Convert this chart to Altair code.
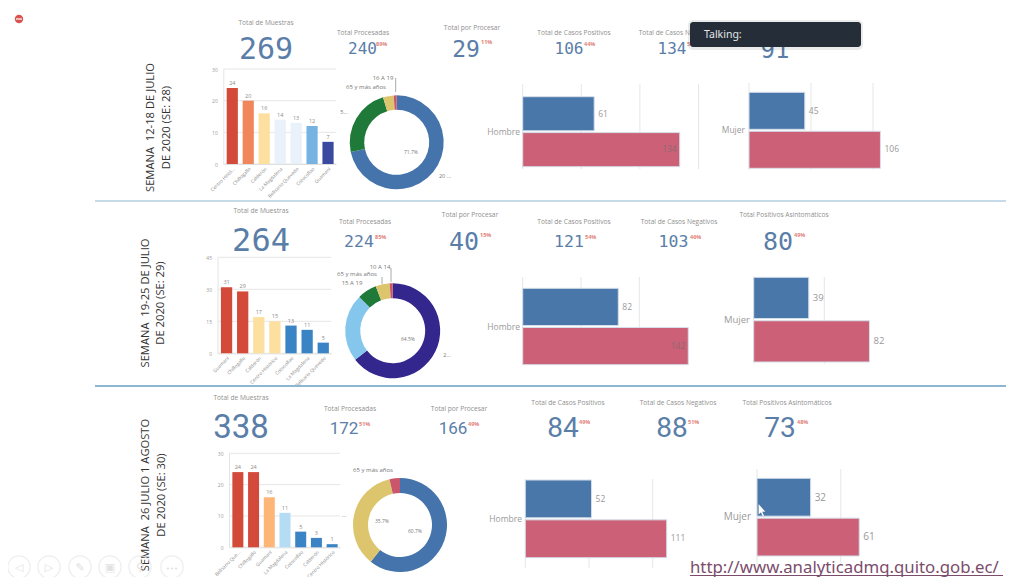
import altair as alt
import pandas as pd

# ---------- data ----------
WEEK_LINE1 = ["SEMANA\u00a0\u00a012-18 DE JULIO", "SEMANA\u00a0\u00a019-25 DE JULIO", "SEMANA\u00a0\u00a026 JULIO 1 AGOSTO"]
WEEK_LINE2 = ["DE 2020 (SE: 28)", "DE 2020 (SE: 29)", "DE 2020 (SE: 30)"]

KPI_TITLES = ["Total de Muestras", "Total Procesadas", "Total por Procesar",
              "Total de Casos Positivos", "Total de Casos Negativos", "Total Positivos Asintomáticos"]
KPI_VALUES = [["269", "240", "29", "106", "134", "91"],
              ["264", "224", "40", "121", "103", "80"],
              ["338", "172", "166", "84", "88", "73"]]
KPI_PCTS = [["", "89%", "11%", "44%", "56%", ""],
            ["", "85%", "15%", "54%", "46%", "49%"],
            ["", "51%", "49%", "49%", "51%", "48%"]]

ZONES_1 = ["Centro Histó...", "Chillogallo", "Calderón", "La Magdalena", "Belisario Quevedo", "Cotocollao", "Guamaní"]
COUNTS_1 = [24, 20, 16, 14, 13, 12, 7]
ZONES_2 = ["Guamaní", "Chillogallo", "Calderón", "Centro Histórico", "Cotocollao", "La Magdalena", "Belisario Quevedo"]
COUNTS_2 = [31, 29, 17, 15, 13, 11, 5]
ZONES_3 = ["Belisario Que...", "Chillogallo", "Guamaní", "La Magdalena", "Cotocollao", "Calderón", "Centro Histórico"]
COUNTS_3 = [24, 24, 16, 11, 5, 3, 1]
TICKS_1 = [0, 10, 20, 30]
TICKS_2 = [0, 15, 30, 45]
TICKS_3 = [0, 10, 20, 30]

AGES_1 = ["20 a 64 años", "5 a 19 años", "65 y más años", "16 A 19"]
SHARE_1 = [71.7, 23.6, 3.7, 1.0]
AGES_2 = ["20 a 64 años", "5 a 14 años", "15 A 19", "65 y más años", "10 A 14"]
SHARE_2 = [64.5, 23.1, 6.6, 4.8, 1.0]
AGES_3 = ["20 a 64 años", "5 a 19 años", "65 y más años"]
SHARE_3 = [60.7, 35.7, 3.6]

SERIES = ["Positivos", "Procesadas"]
HOMBRE = [[61, 134], [82, 142], [52, 111]]
MUJER = [[45, 106], [39, 82], [32, 61]]

# ---------- styles ----------
W, H = 998, 569
RED, ORANGE, SAND, PALE, SKY, BLUE, NAVY = "#d3493a", "#f0875c", "#fddf9f", "#e9f1fb", "#76b2e2", "#3a84c6", "#3a4aa0"
BAR_COL = [[RED, ORANGE, SAND, PALE, PALE, SKY, NAVY],
           [RED, RED, SAND, SAND, BLUE, BLUE, BLUE],
           [RED, RED, "#fdb678", "#b5dcf5", BLUE, BLUE, BLUE]]
DONUT_COL = [["#4474ab", "#1f7a3a", "#dcc56c", "#c9566b"],
             ["#33268c", "#84c6ec", "#1f7a3a", "#dcc56c", "#c9566b"],
             ["#4474ab", "#dcc56c", "#c9566b"]]
KPI_BLUE, GREY, PCT_RED = "#5a7ea8", "#8c8c8c", "#e0817a"
H_BLUE, H_RED, GRID = "#4a77aa", "#cc6076", "#e6e6e6"
FONT, MONO, SANS = "Open Sans", "DejaVu Sans Mono", "Roboto"

layers = []


def X(v):
    return v - 8


def Y(v):
    return v - 8


def txt(s, x, y, size=7, color=GREY, align="center", font=FONT, angle=0, weight="normal"):
    layers.append(alt.Chart(pd.DataFrame({"t": [s]})).mark_text(
        align=align, baseline="alphabetic" if angle == 0 else "middle", fontSize=size, color=color,
        font=font, angle=angle, fontWeight=weight).encode(
        x=alt.value(X(x)), y=alt.value(Y(y)), text="t:N"))


def rect(x0, x1, y0, y1, color, opacity=1.0, radius=0):
    layers.append(alt.Chart(pd.DataFrame({"a": [1]})).mark_rect(
        color=color, opacity=opacity, cornerRadius=radius).encode(
        x=alt.value(X(x0)), x2=alt.value(X(x1)), y=alt.value(Y(y0)), y2=alt.value(Y(y1))))


def hline(x0, x1, y, color, width=1.0):
    layers.append(alt.Chart(pd.DataFrame({"a": [1]})).mark_rule(color=color, strokeWidth=width).encode(
        x=alt.value(X(x0)), x2=alt.value(X(x1)), y=alt.value(Y(y))))


def vline(x, y0, y1, color, width=1.0):
    layers.append(alt.Chart(pd.DataFrame({"a": [1]})).mark_rule(color=color, strokeWidth=width).encode(
        y=alt.value(Y(y0)), y2=alt.value(Y(y1)), x=alt.value(X(x))))


def vbars(cats, vals, cols, x0, x1, y0, ytop, ymax, ticks):
    xs = alt.Scale(domain=cats, range=[X(x0), X(x1)], paddingInner=0.3, paddingOuter=0.15)
    ys = alt.Scale(domain=[0, ymax], range=[Y(y0), Y(ytop)], nice=False)
    grid = pd.DataFrame({"t": ticks})
    layers.append(alt.Chart(grid).mark_rule(color=GRID, strokeWidth=1).encode(
        y=alt.Y("t:Q", scale=ys, axis=None), x=alt.value(X(x0 - 1)), x2=alt.value(X(x1))))
    df = pd.DataFrame({"c": cats, "v": vals})
    layers.append(alt.Chart(df).mark_bar().encode(
        x=alt.X("c:N", sort=None, scale=xs, title=None,
                axis=alt.Axis(orient="bottom", offset=Y(y0) - H, labelAngle=315, labelFontSize=4.8,
                              labelColor="#8a8a8a", labelFont=FONT, ticks=False, domainColor="#d9d9d9",
                              labelPadding=2, labelOverlap=False, labelLimit=70)),
        y=alt.Y("v:Q", scale=ys, title=None,
                axis=alt.Axis(orient="left", offset=-X(x0 - 1), values=ticks, ticks=False, grid=False,
                              domainColor="#e4e4e4", labelFontSize=5, labelColor="#9a9a9a", labelFont=FONT,
                              labelPadding=6)),
        color=alt.Color("c:N", scale=alt.Scale(domain=cats, range=cols), legend=None)))
    layers.append(alt.Chart(df).mark_text(dy=-5, fontSize=5.5, color="#8a8a8a", font=FONT).encode(
        x=alt.X("c:N", sort=None, scale=xs, axis=None),
        y=alt.Y("v:Q", scale=ys, axis=None),
        text="v:Q"))


def donut(cats, vals, cols, cx, cy, r_out, r_in):
    df = pd.DataFrame({"c": cats, "v": vals, "o": list(range(len(cats)))})
    layers.append(alt.Chart(df).mark_arc(outerRadius=r_out, innerRadius=r_in).encode(
        theta=alt.Theta("v:Q", stack=True),
        order=alt.Order("o:Q"),
        color=alt.Color("c:N", scale=alt.Scale(domain=cats, range=cols), legend=None),
        x=alt.value(X(cx)), y=alt.value(Y(cy))))


def hbars(vals, x0, x_tick, tick_step, y_top, y_bot, grid_top, grid_bot, n_ticks, label, label_right,
          inside=None, lab_size=8.5, val_size=8.5):
    ticks = [tick_step * i for i in range(n_ticks)]
    xs = alt.Scale(domain=[0, tick_step], range=[X(x0), X(x_tick)], nice=False, clamp=False, zero=True)
    ysc = alt.Scale(domain=SERIES, range=[Y(y_top), Y(y_bot)], paddingInner=0.05, paddingOuter=0)
    layers.append(alt.Chart(pd.DataFrame({"t": ticks})).mark_rule(color=GRID, strokeWidth=1).encode(
        x=alt.X("t:Q", scale=xs, axis=None), y=alt.value(Y(grid_top)), y2=alt.value(Y(grid_bot))))
    df = pd.DataFrame({"s": SERIES, "v": vals})
    layers.append(alt.Chart(df).mark_bar(strokeWidth=1, stroke="#d5dfea").encode(
        x=alt.X("v:Q", scale=xs, axis=None),
        y=alt.Y("s:N", sort=None, scale=ysc, axis=None),
        color=alt.Color("s:N", scale=alt.Scale(domain=SERIES, range=[H_BLUE, H_RED]), legend=None)))
    for s, v in zip(SERIES, vals):
        is_in = inside is not None and v == inside
        d1 = pd.DataFrame({"s": [s], "v": [v]})
        layers.append(alt.Chart(d1).mark_text(
            align="right" if is_in else "left", dx=-3 if is_in else 4, fontSize=val_size,
            color="#8c6a72" if is_in else "#999999", font=FONT).encode(
            x=alt.X("v:Q", scale=xs, axis=None),
            y=alt.Y("s:N", sort=None, scale=ysc, axis=None),
            text="v:Q"))
    txt(label, label_right, (y_top + y_bot) / 2 + 3, size=lab_size, color="#9a9a9a", align="right")


# ---------- separators ----------
hline(95, 1006, 201, "#8db6d2", 1.2)
hline(95, 1006, 386, "#8db6d2", 1.8)

# ---------- vertical week captions ----------
for i, (x1, x2, yc) in enumerate([(151, 166.5, 127.5), (145.5, 161, 303), (145.5, 161.5, 495)]):
    txt(WEEK_LINE1[i], x1, yc, size=11.2, color="#333333", angle=270)
    txt(WEEK_LINE2[i], x2, yc, size=11.2, color="#333333", angle=270)

# ---------- KPIs ----------
# (title centre, title y, number centre, baseline, number size, pct left)
KPI_LAYOUT = [
    [(266, 25, 266, 59, 30, None), (363, 35, 362.5, 54, 16, 376), (472, 30, 466, 57, 23, 481),
     (574, 35, 569, 54, 16, 584), (677, 35, 672, 54, 16, 687), (0, 0, 775, 58, 24, None)],
    [(261, 213, 261, 251, 32, None), (365, 224, 359, 247, 16.5, 375), (470, 217, 464, 250, 25, 480),
     (574, 224, 569, 247, 16.5, 585), (679, 224, 673.5, 247, 16.5, 690), (784, 217, 778, 250, 25, 794)],
    [(241, 400, 241, 438, 33, None), (350, 411, 344, 434, 17, 359), (459, 411, 453, 434, 17, 468),
     (568, 405, 563, 437, 28, 579), (678, 405, 672, 437, 28, 688), (787, 405, 780, 437, 28, 797)],
]
for r in range(3):
    font = SANS if r == 2 else MONO
    for k in range(6):
        tx, ty, nx, ny, ns, px = KPI_LAYOUT[r][k]
        if tx:
            txt(KPI_TITLES[k], tx, ty, size=6.6, color="#8f8f8f")
        txt(KPI_VALUES[r][k], nx, ny, size=ns, color=KPI_BLUE, font=font)
        if px and KPI_PCTS[r][k]:
            txt(KPI_PCTS[r][k], px, ny - 8 if ns < 21 else ny - 13, size=5.5, color=PCT_RED, align="left", weight="bold")

# ---------- column charts ----------
vbars(ZONES_1, COUNTS_1, BAR_COL[0], 224.3, 336, 164, 69, 30, TICKS_1)
vbars(ZONES_2, COUNTS_2, BAR_COL[1], 218.5, 331.3, 353.3, 257.3, 45, TICKS_2)
vbars(ZONES_3, COUNTS_3, BAR_COL[2], 230, 340, 547.3, 453.3, 30, TICKS_3)

# ---------- donuts ----------
donut(AGES_1, SHARE_1, DONUT_COL[0], 396.7, 142.3, 47, 32.5)
donut(AGES_2, SHARE_2, DONUT_COL[1], 392.7, 330.7, 47.5, 32.5)
donut(AGES_3, SHARE_3, DONUT_COL[2], 400, 525, 47, 32)
LAB = "#777777"
txt("16 A 19", 383, 80, size=6, color=LAB)
txt("65 y más años", 366, 89, size=6, color=LAB)
txt("5...", 344, 114, size=5.5, color=LAB)
txt("20 ...", 445, 178, size=5.5, color=LAB)
txt("71.7%", 411, 154, size=5, color=LAB)
vline(395.7, 78, 92, "#aaaaaa")
txt("10 A 14", 380, 269, size=6, color=LAB)
txt("65 y más años", 357, 276, size=6, color=LAB)
txt("15 A 19", 352, 285, size=6, color=LAB)
txt("2...", 447, 357, size=5.5, color=LAB)
txt("64.5%", 408, 341, size=5, color=LAB)
vline(391, 268, 282, "#aaaaaa")
vline(382, 277, 284, "#aaaaaa")
txt("65 y más años", 373, 472, size=6, color=LAB)
txt("...", 344, 517, size=5.5, color=LAB)
txt("35.7%", 382, 523, size=5, color=LAB)
txt("60.7%", 415, 533, size=5, color=LAB)

# ---------- sex bars ----------
hbars(HOMBRE[0], 522.7, 581.3, 50, 96.7, 166.7, 84, 169, 4, "Hombre", 520, inside=134)
hbars(MUJER[0], 749, 811, 50, 92.3, 168.3, 83, 170, 3, "Mujer", 745)
hbars(HOMBRE[1], 522.7, 581, 50, 288.3, 364.7, 277, 365, 3, "Hombre", 520, inside=142)
hbars(MUJER[1], 753.7, 824.3, 50, 277.3, 362, 277, 364, 2, "Mujer", 750, lab_size=9.5, val_size=9.5)
hbars(HOMBRE[2], 525.3, 589, 50, 480, 557.7, 479, 568, 3, "Hombre", 522)
hbars(MUJER[2], 757, 840.8, 50, 478.3, 556, 469, 566, 2, "Mujer", 751, lab_size=10, val_size=10)

# ---------- screen-recording overlay ----------
rect(688, 863, 20, 50, "#000000", 0.08, 5)
rect(690, 861, 22, 47, "#252e38", 1.0, 3)
txt("Talking:", 704, 38, size=10.5, color="#e4e6e8", font="Noto Sans", align="left")

layers.append(alt.Chart(pd.DataFrame({"a": [1]})).mark_point(
    filled=True, color="#d9534f", size=70, opacity=1).encode(x=alt.value(X(19)), y=alt.value(Y(19))))
hline(16, 22, 19, "#ffffff", 1.2)
for cx in [19, 49, 80, 110, 140, 172]:
    layers.append(alt.Chart(pd.DataFrame({"a": [1]})).mark_point(
        filled=False, color="#e8e8e8", size=500, strokeWidth=1.2).encode(x=alt.value(X(cx)), y=alt.value(Y(567))))
for cx, g in [(19, "◁"), (49, "▷"), (80, "✎"), (110, "▣"), (140, "⚲"), (172, "•••")]:
    txt(g, cx, 571, size=11 if cx != 172 else 7, color="#e2e2e2", font="DejaVu Sans")

txt("http://www.analyticadmq.quito.gob.ec/", 690, 573, size=16.8, color="#7b4c6c", align="left", font="Noto Sans")
hline(690, 1003, 575.5, "#7b4c6c", 1.0)

layers.append(alt.Chart(pd.DataFrame({"a": [1]})).mark_point(
    filled=True, fill="#ffffff", stroke="#222222", strokeWidth=0.08, opacity=1, size=190,
    shape="M-0.5,-1 L-0.5,0.5 L-0.15,0.2 L0.1,0.8 L0.3,0.7 L0.05,0.1 L0.5,0.1 Z").encode(
    x=alt.value(X(762)), y=alt.value(Y(511))))

chart = alt.layer(*layers).resolve_scale(
    x="independent", y="independent", color="independent", theta="independent"
).resolve_axis(x="independent", y="independent").properties(
    width=W, height=H, padding=0,
    autosize=alt.AutoSizeParams(type="none"), background="#ffffff",
).configure_view(stroke=None)

chart.save("out.html", embed_options={"renderer": "svg", "actions": False})
